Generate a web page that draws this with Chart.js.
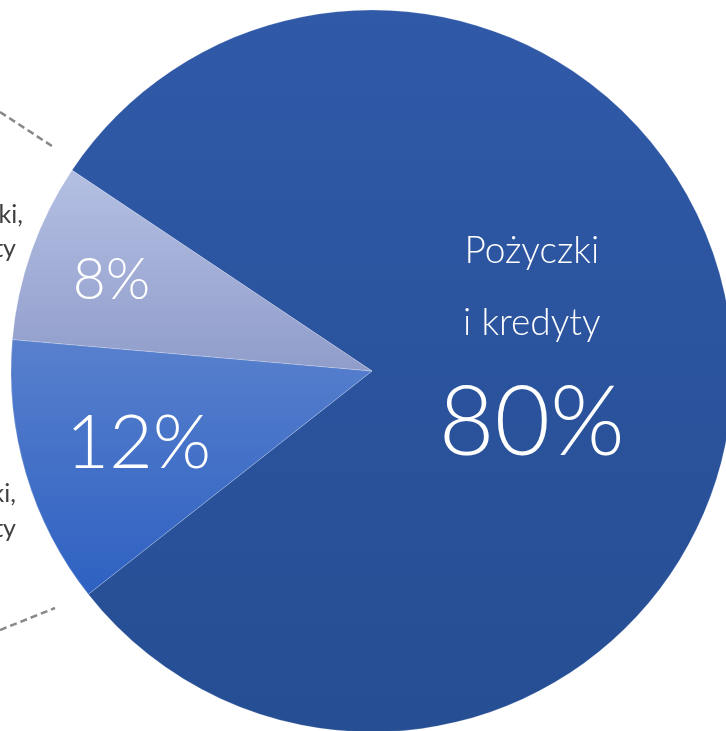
<!DOCTYPE html>
<html>
<head>
<meta charset="utf-8">
<script src="https://cdn.jsdelivr.net/npm/chart.js@4.4.1/dist/chart.umd.min.js"></script>
<style>
  html, body { margin: 0; padding: 0; overflow: hidden; background: #fff; width: 726px; height: 731px; }
  #wrap { position: absolute; left: 0; top: 0; width: 744px; height: 742px; }
</style>
</head>
<body>
<div id="wrap"><canvas id="myPieChart"></canvas></div>
<script>
// slices go clockwise, starting at the upper-left edge of the big slice
const categories = ['Pożyczki i kredyty', 'Pozostałe pożyczki, kredyty', 'Inne pożyczki, kredyty'];
const shares = [80, 12, 8];
const shareLabels = ['80%', '12%', '8%'];
const sideLabels = [null, ['Pożyczki,', 'kredyty'], ['Pożyczki,', 'kredyty']];

const topColors = ['#3059a8', '#5880cd', '#b4bfe3'];
const bottomColors = ['#264e93', '#2e61c2', '#909dca'];

const ROTATION = 303.8;
const RADIUS = 361;

// vertical extent of a slice, so each one gets its own top-to-bottom gradient
const sliceExtent = (chart, i) => {
  const area = chart.chartArea;
  const cx = (area.left + area.right) / 2;
  const cy = (area.top + area.bottom) / 2;
  const total = shares.reduce((a, b) => a + b, 0);
  let before = 0;
  for (let k = 0; k < i; k++) before += shares[k];
  const a0 = ROTATION * Math.PI / 180 - Math.PI / 2 + before / total * 2 * Math.PI;
  const a1 = a0 + shares[i] / total * 2 * Math.PI;
  let ys = [cy, cy + RADIUS * Math.sin(a0), cy + RADIUS * Math.sin(a1)];
  for (let k = -4; k <= 4; k++) {
    const down = Math.PI / 2 + k * 2 * Math.PI;
    const up = -Math.PI / 2 + k * 2 * Math.PI;
    if (down > a0 && down < a1) ys.push(cy + RADIUS);
    if (up > a0 && up < a1) ys.push(cy - RADIUS);
  }
  return [Math.min(...ys), Math.max(...ys)];
};

const sliceFill = (context) => {
  const chart = context.chart;
  const i = context.dataIndex;
  if (!chart.chartArea) return topColors[i];
  const [y0, y1] = sliceExtent(chart, i);
  const g = chart.ctx.createLinearGradient(0, y0, 0, y1);
  g.addColorStop(0, topColors[i]);
  g.addColorStop(1, bottomColors[i]);
  return g;
};

// text inside the slices + cut-off labels on the left
const labelPlugin = {
  id: 'sliceLabels',
  afterDatasetsDraw(chart) {
    const ctx = chart.ctx;
    const meta = chart.getDatasetMeta(0);
    const place = (i, frac) => {
      const arc = meta.data[i];
      const mid = (arc.startAngle + arc.endAngle) / 2;
      return { x: arc.x + Math.cos(mid) * arc.outerRadius * frac, y: arc.y + Math.sin(mid) * arc.outerRadius * frac };
    };
    ctx.save();
    ctx.fillStyle = '#ffffff';
    ctx.textAlign = 'center';
    ctx.textBaseline = 'alphabetic';

    let p = place(0, 0.443);
    ctx.font = '300 37px Lato';
    ctx.fillText('Pożyczki', p.x, p.y - 102);
    ctx.fillText('i kredyty', p.x, p.y - 30);
    ctx.font = '300 96px Lato';
    ctx.fillText(shareLabels[0], p.x, p.y + 90);

    p = place(1, 0.675);
    ctx.font = '300 75px Lato';
    ctx.fillText(shareLabels[1], p.x, p.y + 27);

    p = place(2, 0.765);
    ctx.font = '300 57px Lato';
    ctx.fillText(shareLabels[2], p.x, p.y + 20);

    // leader lines
    ctx.strokeStyle = '#888888';
    ctx.lineWidth = 2.5;
    ctx.setLineDash([7, 4]);
    ctx.beginPath();
    ctx.moveTo(0, 112); ctx.lineTo(55, 148);
    ctx.moveTo(0, 630); ctx.lineTo(55, 608);
    ctx.stroke();
    ctx.setLineDash([]);

    ctx.fillStyle = '#404040';
    ctx.font = '25px Lato';
    ctx.textAlign = 'right';
    ctx.fillText(sideLabels[2][0], 23, 223);
    ctx.fillText(sideLabels[2][1], 16, 257);
    ctx.fillText(sideLabels[1][0], 16, 502);
    ctx.fillText(sideLabels[1][1], 16, 537);
    ctx.restore();
  }
};

const buildPieChart = () => {
  var ctx = document.getElementById('myPieChart').getContext('2d');
  var myPieChart = new Chart(ctx, {
    type: 'pie',
    data: {
      labels: categories,
      datasets: [{
        data: shares,
        backgroundColor: sliceFill,
        borderColor: 'rgba(255,255,255,0.2)',
        borderWidth: 1,
        radius: RADIUS
      }]
    },
    options: {
      responsive: true,
      maintainAspectRatio: false,
      animation: false,
      rotation: ROTATION,
      layout: { padding: 0 },
      events: [],
      plugins: {
        legend: { display: false },
        tooltip: { enabled: false }
      }
    },
    plugins: [labelPlugin]
  });
};

buildPieChart();
</script>
</body>
</html>
